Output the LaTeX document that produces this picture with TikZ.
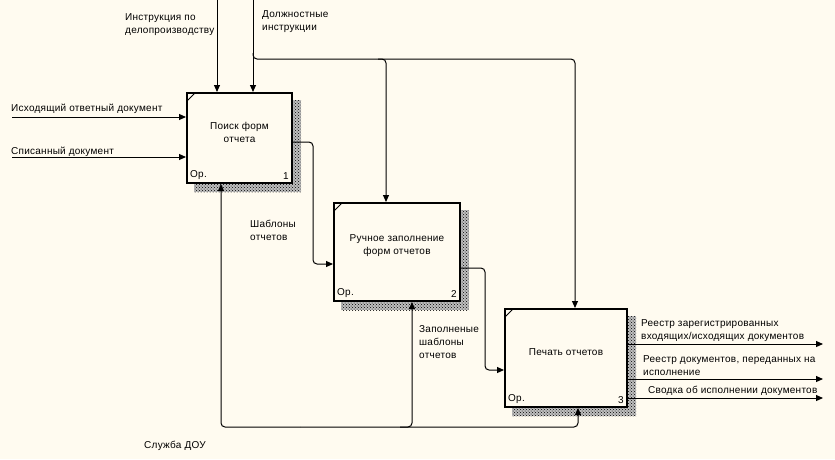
\documentclass[tikz,border=0pt]{standalone}
\usepackage{fontspec}
\setmainfont[LetterSpace=2.5]{Liberation Sans}
\usetikzlibrary{arrows.meta,patterns,backgrounds,calc}
\definecolor{paper}{RGB}{255,251,240}
\tikzset{
	func/.style={draw,line width=2pt,fill=paper,inner sep=0pt},
	flow/.style={line width=1pt,rounded corners=4pt,-{Triangle[length=7pt,width=6pt]}},
	lbl/.style={font=\fontsize{10}{13}\selectfont,align=left,anchor=west,inner sep=0pt},
	ttl/.style={font=\fontsize{10}{13}\selectfont,align=center,inner sep=0pt}
}
\begin{document}
\begin{tikzpicture}[x=1pt,y=-1pt]
		\useasboundingbox (0,0) rectangle (835,459);
		\node[func,minimum width=105pt,minimum height=90pt] (f1) at (239.5,138) {};
		\node[func,minimum width=126pt,minimum height=98pt] (f2) at (397,252) {};
		\node[func,minimum width=122pt,minimum height=98pt] (f3) at (566,358) {};
		\begin{scope}[on background layer]
			\fill[paper] (0,0) rectangle (835,459);
			\foreach \f in {f1,f2,f3}{
				\fill[black!25] ($(\f.south west)+(8,8)$) rectangle ($(\f.north east)+(8,8)$);
				\fill[pattern=crosshatch dots,pattern color=black] ($(\f.south west)+(8,8)$) rectangle ($(\f.north east)+(8,8)$);
			}
		\end{scope}
		\foreach \f/\n in {f1/1,f2/2,f3/3}{
			\draw[line width=1pt] ($(\f.north west)+(1,9)$) -- ($(\f.north west)+(9,1)$);
			\node[lbl,anchor=south west] at ($(\f.south west)+(4,-4)$) {Ор.};
			\node[lbl,anchor=south east] at ($(\f.south east)+(-4,-4)$) {\n};
		}
		\node[ttl] (t1) at ([yshift=6pt]f1.center) {Поиск форм\\отчета};
		\node[ttl] (t2) at ([yshift=6pt]f2.center) {Ручное заполнение\\форм отчетов};
		\node[ttl] (t3) at ([yshift=6pt]f3.center) {Печать отчетов};
		% inputs and controls
		\coordinate (in1) at (12,117);
		\coordinate (in2) at (12,157);
		\coordinate (c1) at (217,0);
		\coordinate (c2) at (253,0);
		\coordinate (j) at (253,59);
		\draw[flow] (in1) -- (in1 -| f1.west);
		\draw[flow] (in2) -- (in2 -| f1.west);
		\draw[flow] (c1) -- (c1 |- f1.north);
		\draw[flow] (c2) -- (c2 |- f1.north);
		\draw[flow] ($(j)+(0,-6)$) -- (j) -| ([xshift=9pt]f3.north);
		\draw[flow] ($(j)+(125,0)$) -| ([xshift=-11pt]f2.north);
		\node[lbl] (l1) at (125,24.5) {Инструкция по\\делопроизводству};
		\node[lbl] (l2) at (262,21.5) {Должностные\\инструкции};
		\node[lbl] (l3) at (11,109) {Исходящий ответный документ};
		\node[lbl] (l4) at (11,152) {Списанный документ};
		% flows between boxes
		\draw[flow] ([yshift=-4pt]f1.east) -- ++(20,0) |- ([yshift=-12pt]f2.west);
		\draw[flow] ([yshift=-16pt]f2.east) -- ++(24,0) |- ([yshift=-12pt]f3.west);
		\node[lbl] (l5) at (250,230.5) {Шаблоны\\отчетов};
		\node[lbl] (l6) at (419,342) {Заполненые\\шаблоны\\отчетов};
		% outputs
		\coordinate (out1) at (823,344);
		\coordinate (out2) at (823,379);
		\coordinate (out3) at (823,398);
		\draw[flow] (out1 -| f3.east) -- (out1);
		\draw[flow] (out2 -| f3.east) -- (out2);
		\draw[flow] (out3 -| f3.east) -- (out3);
		\node[lbl] (l7) at (641,331) {Реестр зарегистрированных\\входящих/исходящих документов};
		\node[lbl] (l8) at (643,366) {Реестр документов, переданных на\\исполнение};
		\node[lbl] (l9) at (648,391) {Сводка об исполнении документов};
		% mechanism
		\coordinate (m) at (300,427);
		\draw[flow] (m) -| ([xshift=-18.5pt]f1.south);
		\draw[flow] (m) -| ([xshift=12pt]f3.south);
		\draw[flow] ($(m)+(100,0)$) -| ([xshift=15pt]f2.south);
		\node[lbl] (l10) at (144,446) {Служба ДОУ};
	\end{tikzpicture}
\end{document}
